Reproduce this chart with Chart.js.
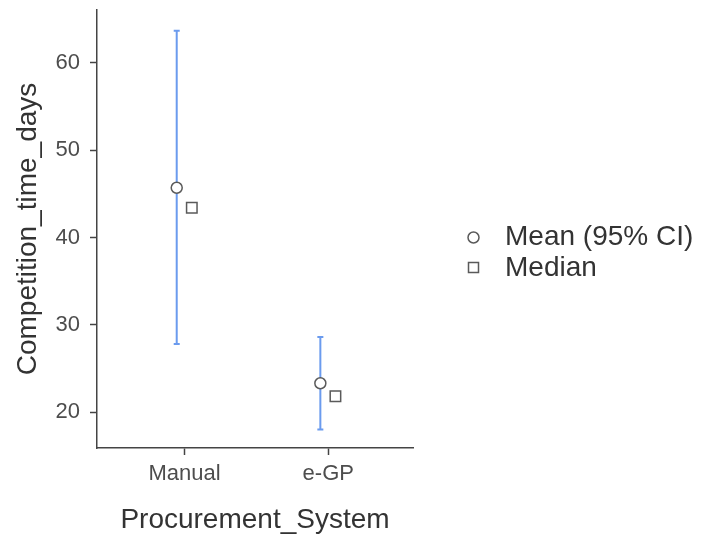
<!DOCTYPE html>
<html>
<head>
<meta charset="utf-8">
<script src="https://cdn.jsdelivr.net/npm/chart.js@4/dist/chart.umd.min.js"></script>
<style>
  html, body { margin: 0; padding: 0; background: #ffffff; }
  #wrap { width: 702px; height: 538px; }
</style>
</head>
<body>
<div id="wrap"><canvas id="c" width="702" height="538"></canvas></div>
<script>
// Competition time (days) by procurement system
const categories = ['Manual', 'e-GP'];
const meanDays   = [45.7, 23.3];
const ciLower    = [27.8, 18.0];
const ciUpper    = [63.7, 28.6];
const medianDays = [43.4, 21.8];
const yTickValues = [20, 30, 40, 50, 60];

const FONT = '"Liberation Sans", Arial, Helvetica, sans-serif';
const DODGE_MEAN = -0.055;
const DODGE_MEDIAN = 0.05;
const MARKER_STROKE = '#5a5a5a';
const CI_COLOR = '#6b9bee';

const meanPoints = categories.map((c, i) => ({ x: i + 1 + DODGE_MEAN, y: meanDays[i] }));
const medianPoints = categories.map((c, i) => ({ x: i + 1 + DODGE_MEDIAN, y: medianDays[i] }));

// Vertical confidence-interval bars with small caps, drawn beneath the markers
const ciBars = {
  id: 'ciBars',
  beforeDatasetsDraw(chart) {
    const { ctx, scales: { x, y } } = chart;
    ctx.save();
    ctx.strokeStyle = CI_COLOR;
    ctx.lineWidth = 2;
    ctx.lineCap = 'butt';
    categories.forEach((c, i) => {
      const px = x.getPixelForValue(i + 1 + DODGE_MEAN);
      const top = y.getPixelForValue(ciUpper[i]);
      const bot = y.getPixelForValue(ciLower[i]);
      ctx.beginPath();
      ctx.moveTo(px, top); ctx.lineTo(px, bot);
      ctx.moveTo(px - 3, top); ctx.lineTo(px + 3, top);
      ctx.moveTo(px - 3, bot); ctx.lineTo(px + 3, bot);
      ctx.stroke();
    });
    ctx.restore();
  }
};

// Legend at the right of the panel
const sideLegend = {
  id: 'sideLegend',
  afterDraw(chart) {
    const { ctx } = chart;
    ctx.save();
    ctx.lineWidth = 1.5;
    ctx.strokeStyle = MARKER_STROKE;
    ctx.fillStyle = '#ffffff';
    ctx.beginPath();
    ctx.arc(473.5, 237.5, 5.5, 0, Math.PI * 2);
    ctx.fill(); ctx.stroke();
    ctx.beginPath();
    ctx.rect(468.5, 262.5, 10, 10);
    ctx.fill(); ctx.stroke();
    ctx.fillStyle = '#333333';
    ctx.font = '28px ' + FONT;
    ctx.textAlign = 'left';
    ctx.textBaseline = 'middle';
    ctx.fillText('Mean (95% CI)', 505, 237);
    ctx.fillText('Median', 505, 268);
    ctx.restore();
  }
};

function noEdgePadding(scale) {
  scale.paddingTop = 0;
  scale.paddingBottom = 0;
  scale.paddingLeft = 0;
  scale.paddingRight = 0;
}

new Chart(document.getElementById('c'), {
  type: 'scatter',
  data: {
    datasets: [
      {
        label: 'Mean (95% CI)',
        data: meanPoints,
        pointStyle: 'circle',
        pointRadius: 5.5,
        pointHoverRadius: 5.5,
        backgroundColor: '#ffffff',
        borderColor: MARKER_STROKE,
        borderWidth: 1.5
      },
      {
        label: 'Median',
        data: medianPoints,
        pointStyle: 'rect',
        pointRadius: 7.4,
        pointHoverRadius: 7.4,
        backgroundColor: '#ffffff',
        borderColor: MARKER_STROKE,
        borderWidth: 1.5
      }
    ]
  },
  options: {
    responsive: false,
    animation: false,
    events: [],
    layout: { padding: { top: 10, right: 289, left: 0, bottom: 0 } },
    plugins: {
      legend: { display: false },
      tooltip: { enabled: false }
    },
    scales: {
      x: {
        type: 'linear',
        min: 0.39,
        max: 2.59,
        afterBuildTicks(scale) { scale.ticks = categories.map((c, i) => ({ value: i + 1 })); },
        afterFit(scale) { scale.height = 90; noEdgePadding(scale); },
        ticks: {
          callback: (v) => categories[Math.round(v) - 1] || '',
          color: '#4d4d4d',
          font: { family: FONT, size: 22 },
          padding: 6,
          maxRotation: 0,
          autoSkip: false
        },
        grid: { display: true, drawOnChartArea: false, drawTicks: true, tickLength: 7, tickColor: '#444444', tickWidth: 1.5 },
        border: { display: true, color: '#444444', width: 1.5 },
        title: {
          display: true,
          text: 'Procurement_System',
          color: '#333333',
          font: { family: FONT, size: 28 },
          padding: { top: 0, bottom: 1 }
        }
      },
      y: {
        type: 'linear',
        min: 15.88,
        max: 66.07,
        afterBuildTicks(scale) { scale.ticks = yTickValues.map(v => ({ value: v })); },
        afterFit(scale) { scale.width = 97; noEdgePadding(scale); },
        ticks: {
          color: '#4d4d4d',
          font: { family: FONT, size: 22 },
          padding: 10
        },
        grid: { display: true, drawOnChartArea: false, drawTicks: true, tickLength: 7, tickColor: '#444444', tickWidth: 1.5 },
        border: { display: true, color: '#444444', width: 1.5 },
        title: {
          display: true,
          text: 'Competition_time_days',
          color: '#333333',
          font: { family: FONT, size: 28 },
          padding: { top: 11, bottom: 0 }
        }
      }
    }
  },
  plugins: [ciBars, sideLegend]
});
</script>
</body>
</html>
